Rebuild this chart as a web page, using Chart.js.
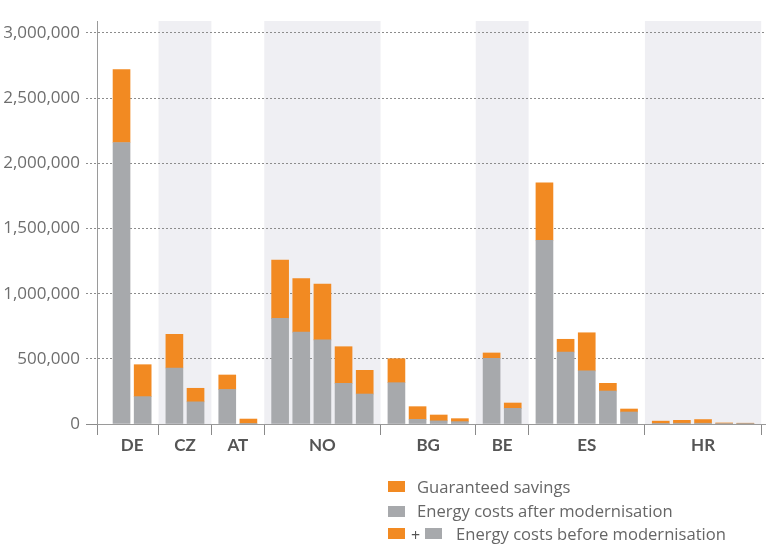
<!DOCTYPE html>
<html>
<head>
<meta charset="utf-8">
<script src="https://cdn.jsdelivr.net/npm/chart.js@4"></script>
<style>
html,body{margin:0;padding:0;background:#fff;}
#wrap{position:relative;width:778px;height:548px;overflow:hidden;}
#c{position:absolute;left:0;top:0;}
.lg{position:absolute;font-family:"Open Sans",sans-serif;font-size:16.6px;color:#666;height:23px;line-height:23px;white-space:nowrap;}
.sw{position:absolute;width:17px;height:11px;}
</style>
</head>
<body>
<div id="wrap">
<canvas id="c" width="778" height="548"></canvas>
<div class="sw" style="left:388px;top:481px;background:#f28a22;"></div>
<div class="lg" style="left:417px;top:475px;">Guaranteed savings</div>
<div class="sw" style="left:388px;top:506px;background:#a7a9ac;"></div>
<div class="lg" style="left:417px;top:499px;">Energy costs after modernisation</div>
<div class="sw" style="left:388px;top:528px;background:#f28a22;"></div>
<div class="lg" style="left:411px;top:524px;font-size:16px;color:#555;">+</div>
<div class="sw" style="left:425px;top:528px;background:#a7a9ac;"></div>
<div class="lg" style="left:456px;top:522px;">Energy costs before modernisation</div>
</div>
<script>
// ---- data ----
const countries = ['DE', 'CZ', 'AT', 'NO', 'BG', 'BE', 'ES', 'HR'];
const barsPerCountry = [2, 2, 2, 5, 4, 2, 5, 5];
const costsAfter = [
  2160000, 210000,
  430000, 170000,
  265000, 5000,
  810000, 705000, 645000, 312000, 230000,
  317000, 36000, 24000, 18000,
  504000, 120000,
  1410000, 552000, 407000, 253000, 92000,
  5000, 6000, 6000, 4000, 3000
];
const costsBefore = [
  2720000, 455000,
  688000, 274000,
  376000, 38000,
  1258000, 1115000, 1074000, 593000, 412000,
  501000, 133000, 69000, 41000,
  545000, 161000,
  1850000, 650000, 700000, 312000, 115000,
  22000, 28000, 34000, 8000, 6000
];
const yTickValues = [0, 500000, 1000000, 1500000, 2000000, 2500000, 3000000];
const shadedCountries = ['CZ', 'NO', 'BE', 'HR'];

// ---- layout of bar slots (derived from group structure) ----
const GROUP_GAP = 0.5, HALF_SEP = 0.75;
const xPos = [], groupCenters = [], groupBounds = [];
let p = 0;
barsPerCountry.forEach((n, g) => {
  if (g > 0) p += GROUP_GAP;
  const start = p;
  for (let i = 0; i < n; i++) { xPos.push(p); p += 1; }
  const end = p - 1;
  groupCenters.push((start + end) / 2);
  groupBounds.push([start - HALF_SEP, end + HALF_SEP]);
});
const X_MIN = -1.16;
const X_MAX = xPos[xPos.length - 1] + 0.93;
groupBounds[0][0] = X_MIN;

const savings = costsBefore.map((v, i) => v - costsAfter[i]);
const afterData = costsAfter.map((v, i) => ({ x: xPos[i], y: v }));
const savingsData = savings.map((v, i) => ({ x: xPos[i], y: v }));

const boundaryVals = [X_MIN];
groupBounds.forEach((b, g) => {
  if (g < groupBounds.length - 1) boundaryVals.push((b[1] + groupBounds[g + 1][0]) / 2);
  else boundaryVals.push(b[1]);
});
const labelAt = new Map(groupCenters.map((c, i) => [c, countries[i]]));
const boundarySet = new Set(boundaryVals);
const xTickVals = [...boundaryVals, ...groupCenters].sort((a, b) => a - b);

const shadePlugin = {
  id: 'shade',
  beforeDraw(chart) {
    const { ctx, chartArea, scales: { x } } = chart;
    ctx.save();
    ctx.fillStyle = '#efeff3';
    countries.forEach((c, g) => {
      if (!shadedCountries.includes(c)) return;
      const l = x.getPixelForValue(g === 0 ? groupBounds[g][0] : boundaryVals[g]);
      const r = x.getPixelForValue(boundaryVals[g + 1]);
      ctx.fillRect(l, chartArea.top, r - l, chartArea.bottom - chartArea.top);
    });
    ctx.restore();
  }
};

new Chart(document.getElementById('c'), {
  type: 'bar',
  data: {
    datasets: [
      { label: 'Energy costs after modernisation', data: afterData, backgroundColor: '#a7a9ac', barThickness: 17 },
      { label: 'Guaranteed savings', data: savingsData, backgroundColor: '#f28a22', barThickness: 17 }
    ]
  },
  options: {
    responsive: false,
    animation: false,
    layout: { padding: { top: 21, right: 13, bottom: 84, left: 0 } },
    plugins: { legend: { display: false }, tooltip: { enabled: false } },
    scales: {
      x: {
        type: 'linear',
        stacked: true,
        offset: false,
        min: X_MIN,
        max: X_MAX,
        afterBuildTicks(s) { s.ticks = xTickVals.map(v => ({ value: v })); },
        afterFit(s) { s.height = 40; },
        ticks: {
          autoSkip: false, maxRotation: 0, minRotation: 0, padding: 0,
          font: { family: 'Lato', size: 17, weight: 'bold' },
          color: '#555',
          callback: v => labelAt.has(v) ? labelAt.get(v) : ''
        },
        grid: {
          offset: false,
          drawOnChartArea: false,
          drawTicks: true,
          tickLength: 11,
          color: c => (c.tick && boundarySet.has(c.tick.value)) ? '#8a8a8a' : 'rgba(0,0,0,0)',
          tickColor: c => (c.tick && boundarySet.has(c.tick.value)) ? '#8a8a8a' : 'rgba(0,0,0,0)'
        },
        border: { display: true, color: '#9a9a9a', width: 1 }
      },
      y: {
        stacked: true,
        min: 0,
        max: 3092000,
        afterBuildTicks(s) { s.ticks = yTickValues.map(v => ({ value: v })); },
        afterFit(s) { s.width = 97; },
        ticks: {
          font: { family: '"Open Sans"', size: 17 },
          color: '#6e6e6e',
          padding: 6,
          callback: v => Number(v).toLocaleString('en-US')
        },
        grid: {
          color: '#8c8c8c',
          lineWidth: 1,
          tickLength: 11,
          tickBorderDash: c => (c.tick && c.tick.value === 0) ? [] : [2, 2]
        },
        border: { display: true, color: '#9a9a9a', width: 1, dash: c => (c.tick && c.tick.value === 0) ? [] : [2, 2] }
      }
    }
  },
  plugins: [shadePlugin]
});
</script>
</body>
</html>
